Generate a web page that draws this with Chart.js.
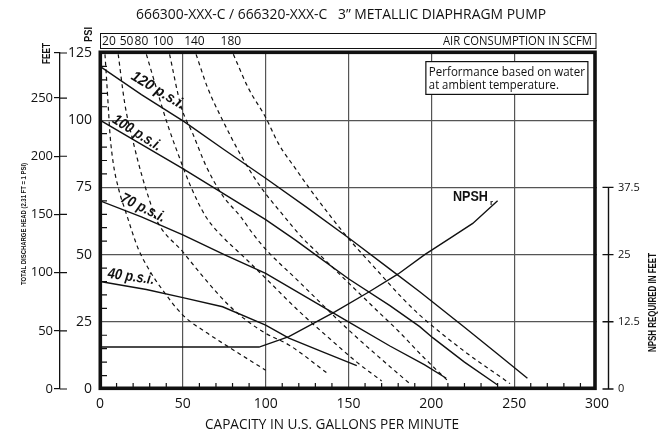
<!DOCTYPE html>
<html>
<head>
<meta charset="utf-8">
<title>3" Metallic Diaphragm Pump</title>
<script src="https://cdn.jsdelivr.net/npm/chart.js@4.4.1/dist/chart.umd.min.js"></script>
<style>
  body { margin: 0; background: #fff; }
  #grafico { display: block; }
</style>
</head>
<body>
<canvas id="grafico" width="658" height="433"></canvas>
<script>
// curvas cheias: pressao de ar (vazao em gpm, altura em psi)
const gpm120 = [0, 25, 51, 75, 100, 125, 151, 175, 193, 220, 240, 258];
const head120 = [120, 109.5, 99.4, 89, 78.4, 67.5, 55.8, 44.6, 36.2, 23, 13, 4];
const gpm100 = [0, 25, 50, 75, 100, 118, 130, 150, 175, 193, 201, 220, 240];
const head100 = [100, 91, 82, 72.5, 63, 55.4, 50, 41, 31, 23.2, 19, 10, 1.5];
const gpm70 = [0, 25, 50, 75, 100, 125, 150, 175, 196, 209];
const head70 = [70, 64, 57.3, 50, 43, 34, 25, 16, 9, 4];
const gpm40 = [0, 28, 50, 74, 100, 114, 134, 155];
const head40 = [40, 37, 34, 30.6, 23.8, 18.9, 13.9, 8.7];

// curvas tracejadas: consumo de ar (scfm)
const gpmAr20 = [3, 4, 5, 6, 8, 11, 16, 23, 30, 37, 50, 65, 77.5, 100];
const headAr20 = [124.5, 115, 105, 95, 84, 75, 65, 52.3, 44, 37.5, 27.5, 20.7, 15.7, 7];
const gpmAr50 = [11, 15, 20, 25, 30, 34, 50, 63, 77.5, 89.5, 100, 114, 138];
const headAr50 = [124.5, 106, 92, 80, 70, 63, 51, 41.2, 31.3, 25, 20.7, 16.4, 5.5];
const gpmAr80 = [28, 34, 41, 48, 55, 64, 75, 85.5, 100, 120, 140, 155, 170];
const headAr80 = [124.5, 112, 98, 86, 75, 64, 56, 49.9, 41.2, 29, 18, 10, 3];
const gpmAr100 = [42, 49, 56, 64, 74, 85, 92, 100, 120, 150, 170, 187];
const headAr100 = [124.5, 105, 95, 83, 72, 64, 58, 52, 40, 22, 11, 2];
const gpmAr140 = [58, 65, 74, 85, 96, 112, 121, 135, 150, 165, 181, 195, 210];
const headAr140 = [124.5, 112, 100, 87, 76, 63.6, 57, 48.5, 39.5, 30.5, 21, 12, 3];
const gpmAr180 = [80.5, 89.5, 100, 108, 118, 126, 140, 149, 166, 183, 193, 220, 247.5];
const headAr180 = [124.5, 112, 101, 91, 82, 75, 63.6, 56.7, 45, 33.5, 27.5, 14, 2];

// NPSH requerido (pes)
const gpmNpsh = [0, 96, 114, 142, 162, 180, 196, 213, 225, 240];
const ftNpsh = [7.8, 7.8, 9.75, 14.4, 18, 21.4, 25, 28.4, 30.8, 35];

// rotulos dos eixos
const feetTicks = [0, 50, 100, 150, 200, 250];
const npshTicks = [0, 12.5, 25, 37.5];
const airLabels = ['20', '50', '80', '100', '140', '180'];
const airLabelGpm = [5.4, 16, 25, 38, 57, 79];

const fonte = "'Open Sans', sans-serif";
const negrito = "'Liberation Sans', Arial, sans-serif";
const corGrade = '#555';

function pontos(xs, ys) {
    return xs.map((x, i) => ({ x: x, y: ys[i] }));
}

function curva(xs, ys, tracejado, eixo) {
    return {
        data: pontos(xs, ys),
        yAxisID: eixo || 'y',
        borderColor: '#111',
        borderWidth: tracejado ? 1.2 : 1.4,
        borderDash: tracejado ? [4, 3.5] : [],
        pointRadius: 0,
        // as tracejadas sao suaves, as cheias sao meio quebradas no original
        cubicInterpolationMode: tracejado ? 'monotone' : 'default',
        tension: 0,
        fill: false
    };
}

// escreve texto espremido para caber numa largura
function texto(ctx, txt, x, y, font, largura, ang, alinh) {
    ctx.save();
    ctx.translate(x, y);
    ctx.rotate(ang || 0);
    ctx.font = font;
    const w = ctx.measureText(txt).width;
    if (largura) ctx.scale(largura / w, 1);
    ctx.textAlign = alinh || 'center';
    ctx.textBaseline = 'middle';
    ctx.fillText(txt, 0, 0);
    ctx.restore();
}

const grau = Math.PI / 180;

const decoracao = {
    id: 'decoracao',
    afterDraw(chart) {
        const ctx = chart.ctx;
        const a = chart.chartArea;
        const sx = chart.scales.x, sy = chart.scales.y, s2 = chart.scales.y2, sf = chart.scales.feet;
        ctx.save();
        ctx.strokeStyle = '#111';
        ctx.fillStyle = '#111';

        // risquinhos menores dentro do grafico
        ctx.lineWidth = 1.2;
        ctx.beginPath();
        for (let v = 10; v < 300; v += 10) {
            if (v % 50 === 0) continue;
            const px = sx.getPixelForValue(v);
            ctx.moveTo(px, a.bottom);
            ctx.lineTo(px, a.bottom - 6);
        }
        for (let v = 5; v < 125; v += 5) {
            if (v % 25 === 0) continue;
            const py = sy.getPixelForValue(v);
            ctx.moveTo(a.left, py);
            ctx.lineTo(a.left + 7, py);
        }
        // pes: risco para dentro tambem
        sf.ticks.forEach(t => {
            const py = sf.getPixelForValue(t.value);
            ctx.moveTo(sf.right, py);
            ctx.lineTo(sf.right + 7, py);
        });
        ctx.stroke();

        // moldura grossa
        ctx.lineWidth = 3.6;
        ctx.strokeRect(a.left + 0.3, a.top - 0.7, a.right - a.left - 2.3, a.bottom - a.top);

        // eixo NPSH na direita
        const xEixo = a.right + 11.5;
        ctx.lineWidth = 1.4;
        ctx.beginPath();
        ctx.moveTo(xEixo, s2.getPixelForValue(0));
        ctx.lineTo(xEixo, s2.getPixelForValue(npshTicks[npshTicks.length - 1]));
        npshTicks.forEach(v => {
            const py = s2.getPixelForValue(v);
            ctx.moveTo(xEixo - 6, py);
            ctx.lineTo(xEixo + 5, py);
        });
        ctx.stroke();

        // caixa do consumo de ar
        ctx.lineWidth = 1;
        ctx.strokeRect(a.left + 0.5, 33.5, a.right - a.left - 1.5, 15);
        airLabels.forEach((txt, i) => {
            texto(ctx, txt, sx.getPixelForValue(airLabelGpm[i]), 41.5, '12px ' + fonte);
        });
        texto(ctx, 'AIR CONSUMPTION IN SCFM', a.right - 5, 41.5, '12px ' + fonte, 149, 0, 'right');

        // titulos
        texto(ctx, '666300-XXX-C / 666320-XXX-C   3\u201D METALLIC DIAPHRAGM PUMP', 341, 15, '14px ' + fonte, 410);
        texto(ctx, 'CAPACITY IN U.S. GALLONS PER MINUTE', 332, 425, '15px ' + fonte, 254);
        texto(ctx, 'PSI', 89.5, 34.5, 'bold 10px ' + negrito, 15, -90 * grau);
        texto(ctx, 'FEET', 47, 53.5, 'bold 10px ' + negrito, 21, -90 * grau);
        texto(ctx, 'TOTAL DISCHARGE HEAD (2.31 FT = 1 PSI)', 24.5, 224, 'bold 6.5px ' + negrito, 122, -90 * grau);
        texto(ctx, 'NPSH REQUIRED IN FEET', 652.5, 302.5, 'bold 11.5px ' + negrito, 99, -90 * grau);

        // caixa de observacao
        const bx0 = sx.getPixelForValue(196.7), bx1 = sx.getPixelForValue(294.5);
        const by0 = sy.getPixelForValue(121.8), by1 = sy.getPixelForValue(109.6);
        ctx.fillStyle = '#fff';
        ctx.fillRect(bx0, by0, bx1 - bx0, by1 - by0);
        ctx.lineWidth = 1.2;
        ctx.strokeRect(bx0, by0, bx1 - bx0, by1 - by0);
        ctx.fillStyle = '#111';
        texto(ctx, 'Performance based on water', bx0 + 3, by0 + 10.5, '13px ' + fonte, 156, 0, 'left');
        texto(ctx, 'at ambient temperature.', bx0 + 3, by0 + 24, '13px ' + fonte, 130, 0, 'left');

        // nomes das curvas
        const nomes = [
            ['120 p.s.i.', 35, 111, 60, 31],
            ['100 p.s.i.', 22.3, 95.2, 55, 32],
            ['70 p.s.i.', 26, 67.3, 48, 26],
            ['40 p.s.i.', 18.7, 41.7, 47, 8]
        ];
        nomes.forEach(n => {
            texto(ctx, n[0], sx.getPixelForValue(n[1]), sy.getPixelForValue(n[2]),
                'italic bold 15px ' + negrito, n[3], n[4] * grau);
        });
        texto(ctx, 'NPSH', sx.getPixelForValue(223.6), s2.getPixelForValue(35.7), 'bold 14px ' + negrito, 35);
        texto(ctx, 'r', sx.getPixelForValue(236.3), s2.getPixelForValue(34.6), 'bold 8px ' + negrito);

        ctx.restore();
    }
};

const semBorda = c => (c.tick && (c.tick.value === 0 || c.tick.value === c.scale.max)) ? 'rgba(0,0,0,0)' : corGrade;

new Chart(document.getElementById('grafico'), {
    type: 'line',
    data: {
        datasets: [
            curva(gpm120, head120),
            curva(gpm100, head100),
            curva(gpm70, head70),
            curva(gpm40, head40),
            curva(gpmAr20, headAr20, true),
            curva(gpmAr50, headAr50, true),
            curva(gpmAr80, headAr80, true),
            curva(gpmAr100, headAr100, true),
            curva(gpmAr140, headAr140, true),
            curva(gpmAr180, headAr180, true),
            curva(gpmNpsh, ftNpsh, false, 'y2')
        ]
    },
    options: {
        responsive: false,
        animation: false,
        devicePixelRatio: 1,
        layout: { padding: { left: 10, top: 53, right: 0, bottom: 0 } },
        plugins: { legend: { display: false }, tooltip: { enabled: false } },
        scales: {
            x: {
                type: 'linear', min: 0, max: 300,
                ticks: { stepSize: 50, padding: 7, color: '#111', font: { family: fonte, size: 14 } },
                grid: { color: semBorda, lineWidth: 1.2, drawTicks: false },
                border: { display: false },
                afterFit: s => { s.height = 44; }
            },
            y: {
                type: 'linear', position: 'left', weight: 0, min: 0, max: 125,
                ticks: { stepSize: 25, padding: 8, color: '#111', font: { family: fonte, size: 14 } },
                grid: { color: semBorda, lineWidth: 1.2, drawTicks: false },
                border: { display: false },
                afterFit: s => { s.width = 40; }
            },
            feet: {
                type: 'linear', position: 'left', weight: 1, min: 0, max: 288.75,
                afterBuildTicks: s => { s.ticks = feetTicks.concat([288.75]).map(v => ({ value: v })); },
                ticks: { padding: 1, color: '#111', font: { family: fonte, size: 13 },
                    callback: v => v > 280 ? '' : v },
                grid: { drawOnChartArea: false, drawTicks: true, tickLength: 6, color: '#111', lineWidth: 1.2 },
                border: { display: true, color: '#111', width: 1.3 },
                afterFit: s => { s.width = 50; }
            },
            y2: {
                type: 'linear', position: 'right', min: 0, max: 62.5,
                afterBuildTicks: s => { s.ticks = npshTicks.map(v => ({ value: v })); },
                ticks: { padding: 21, color: '#111', font: { family: fonte, size: 11 } },
                grid: { display: false, drawTicks: false },
                border: { display: false },
                afterFit: s => { s.width = 61; }
            }
        }
    },
    plugins: [decoracao]
});
</script>
</body>
</html>
